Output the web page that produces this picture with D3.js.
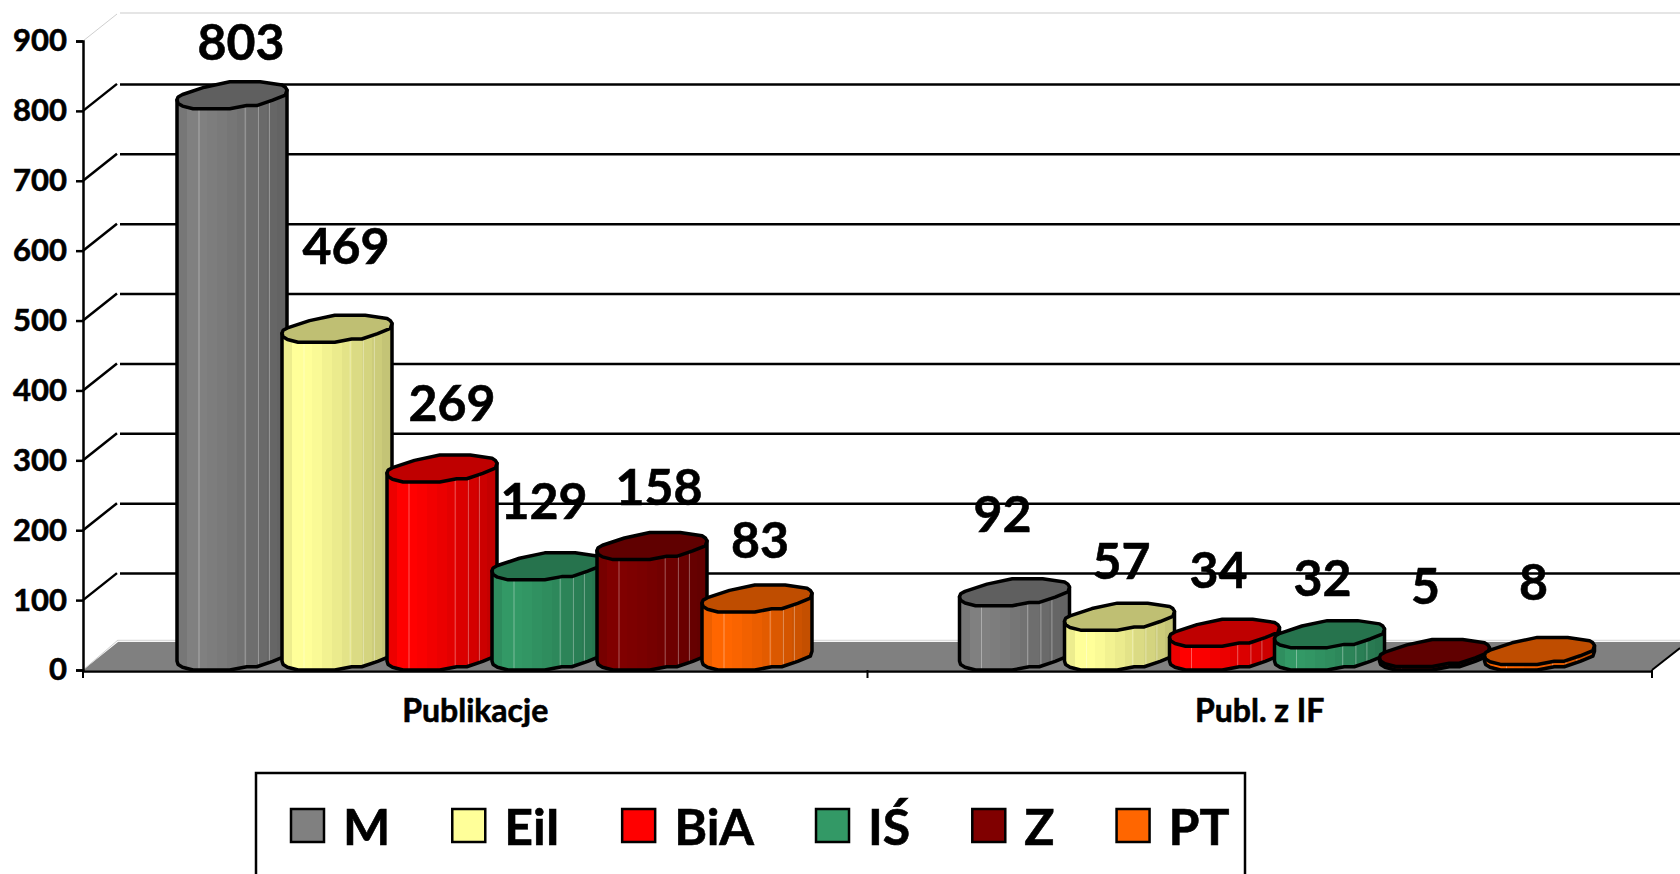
<!DOCTYPE html>
<html>
<head>
<meta charset="utf-8">
<script src="https://cdn.jsdelivr.net/npm/d3@7"></script>
<style>
  html, body { margin: 0; padding: 0; background: #fff; overflow: hidden; }
  text { font-family: Lato, "Open Sans", sans-serif; font-weight: 700; fill: #000; stroke: #000; stroke-width: .6px; }
</style>
</head>
<body>
<div id="graph"></div>
<script>
// data
const categories = ["Publikacje", "Publ. z IF"];
const seriesNames = ["M", "EiI", "BiA", "IŚ", "Z", "PT"];
const publikacje = [803, 469, 269, 129, 158, 83];
const publZIF = [92, 57, 34, 32, 5, 8];
const yTicks = [0, 100, 200, 300, 400, 500, 600, 700, 800, 900];
const seriesColors = ["#808080", "#ffff99", "#ff0000", "#339966", "#800000", "#ff6600"];
const capColors = ["#5f5f5f", "#bfbf73", "#bf0000", "#26734d", "#600000", "#bf4d00"];

// layout
const width = 1680, height = 874;
const depthX = 35, depthY = 28;
const barWidth = 110, capHeight = 27, baseLift = 13.5;
// label nudges from the bar centre, per category and series
const labelShift = [
  [[9, -53], [9, -82], [10, -65], [-3, -65], [7, -59], [3, -58]],
  [[-14, -78], [0, -55], [-8, -62], [-9, -56], [-11, -67], [-8, -68]]
];
// outline of a bar's end, as fractions of its box, left point first then along the front edge
const capShape = [[0, .67], [.01, .8], [.05, .9], [.146, 1], [.48, 1], [.634, .88], [.725, .88], [.87, .68], [.985, .49], [1, .305],
  [.985, .2], [.955, .12], [.756, 0], [.48, 0], [.25, .2], [.05, .47], [.01, .56]];
const frontCount = 10;
const shades = [.93, 1, 1, .98, .95, .92, .89, .86, .83, .8, .77];
const seams = [.2, .62, .74, .84];

const svg = d3.select("#graph").append("svg")
  .attr("width", width)
  .attr("height", height)
  .style("display", "block");

const y = d3.scaleLinear().domain([0, 900]).range([670, 41]);
const x0 = d3.scaleBand().domain(categories).range([83, 1652]);
const x1 = d3.scaleBand().domain(seriesNames).range([94, 724]);

// floor and back wall
const floorY = y(0);
svg.append("polygon")
  .attr("points", [[83, floorY], [83 + depthX, floorY - depthY], [width + 10, floorY - depthY], [1652, floorY]].join(" "))
  .attr("fill", "#808080");
svg.append("line").attr("x1", 118).attr("x2", width)
  .attr("y1", floorY - depthY - 1.5).attr("y2", floorY - depthY - 1.5)
  .attr("stroke", "#dcdcdc").attr("stroke-width", 1.5);
svg.append("line").attr("x1", 83).attr("x2", 118)
  .attr("y1", floorY).attr("y2", floorY - depthY - 2)
  .attr("stroke", "#cfcfcf").attr("stroke-width", 1);
svg.append("line").attr("x1", 1652).attr("x2", width)
  .attr("y1", floorY).attr("y2", floorY - 22)
  .attr("stroke", "#000").attr("stroke-width", 2);

// gridlines and the slanted bits on the side wall
yTicks.filter(d => d > 0).forEach(d => {
  const top = d === 900;
  svg.append("line")
    .attr("x1", 83).attr("y1", y(d))
    .attr("x2", 83 + depthX - 1).attr("y2", y(d) - depthY + 1)
    .attr("stroke", top ? "#cfcfcf" : "#000")
    .attr("stroke-width", top ? 1 : 2.5);
  svg.append("line")
    .attr("x1", 120).attr("x2", width)
    .attr("y1", y(d) - depthY + (top ? 0 : 1.5)).attr("y2", y(d) - depthY + (top ? 0 : 1.5))
    .attr("stroke", top ? "#dcdcdc" : "#000")
    .attr("stroke-width", top ? 1.5 : 2.5);
});

// axes
const yAxis = svg.append("g")
  .attr("transform", "translate(83,0)")
  .call(d3.axisLeft(y).tickValues(yTicks).tickSize(7).tickPadding(9));
yAxis.selectAll("text").attr("font-size", 31).style("font-family", "Lato");
yAxis.selectAll("line").attr("stroke", "#000").attr("stroke-width", 2.5);
yAxis.select(".domain").attr("stroke", "#000").attr("stroke-width", 2.5);

const xAxis = svg.append("g")
  .attr("transform", "translate(0," + (floorY + 1) + ")")
  .call(d3.axisBottom(x0).tickSize(0).tickPadding(28));
xAxis.selectAll("text").attr("font-size", 32).style("font-family", "Lato");
xAxis.select(".domain").attr("stroke", "#000").attr("stroke-width", 2.5);
[83, 1652, x0(categories[1])].forEach(px => {
  svg.append("line").attr("x1", px).attr("x2", px)
    .attr("y1", floorY).attr("y2", floorY + 8)
    .attr("stroke", "#000").attr("stroke-width", 2);
});

// gradients, one per series, in hard steps
const defs = svg.append("defs");
seriesColors.forEach((c, s) => {
  const grad = defs.append("linearGradient").attr("id", "body" + s);
  shades.forEach((k, i) => {
    const rgb = d3.rgb(c);
    const col = d3.rgb(rgb.r * k, rgb.g * k, rgb.b * k);
    grad.append("stop").attr("offset", i / shades.length).attr("stop-color", col);
    grad.append("stop").attr("offset", (i + 1) / shades.length).attr("stop-color", col);
  });
});

// cap outline at a given box
const capPoints = (left, cy) => capShape.map(p => [left + p[0] * barWidth, cy - capHeight / 2 + p[1] * capHeight]);
const lineGen = d3.line();

const seriesByCategory = [publikacje, publZIF];
categories.forEach((cat, c) => {
  const values = seriesByCategory[c];
  const g = svg.append("g");
  values.forEach((v, s) => {
    const left = x0(cat) + x1(seriesNames[s]) + (c === 1 ? -2 : 0);
    const base = y(0) - baseLift;
    const topY = y(v) - baseLift;
    const top = capPoints(left, topY);
    const bottom = capPoints(left, base).slice(0, frontCount);
    const outline = [top[0]].concat(bottom, [top[frontCount - 1]]);
    const clipId = "clip" + c + "_" + s;
    defs.append("clipPath").attr("id", clipId).append("path").attr("d", lineGen(outline) + "Z");
    g.append("path").attr("d", lineGen(outline) + "Z").attr("fill", "url(#body" + s + ")");
    g.append("g").attr("clip-path", "url(#" + clipId + ")")
      .selectAll("line").data(seams).join("line")
      .attr("x1", d => left + d * barWidth).attr("x2", d => left + d * barWidth)
      .attr("y1", topY).attr("y2", base + capHeight)
      .attr("stroke", "#fff").attr("stroke-opacity", .35).attr("stroke-width", 1);
    g.append("path").attr("d", lineGen(outline) + "Z")
      .attr("fill", "none").attr("stroke", "#000").attr("stroke-width", 3.5).attr("stroke-linejoin", "round");
    g.append("path").attr("d", lineGen(top) + "Z")
      .attr("fill", capColors[s]).attr("stroke", "#000").attr("stroke-width", 3.5).attr("stroke-linejoin", "round");
  });
});

// value labels go on top of everything
categories.forEach((cat, c) => {
  seriesByCategory[c].forEach((v, s) => {
    const left = x0(cat) + x1(seriesNames[s]);
    svg.append("text")
      .attr("x", left + barWidth / 2 + labelShift[c][s][0])
      .attr("y", y(v) - baseLift + labelShift[c][s][1])
      .attr("dy", ".35em")
      .attr("text-anchor", "middle")
      .attr("font-size", 50)
      .text(v);
  });
});

// legend, runs off the bottom of the page like the original
svg.append("rect")
  .attr("x", 256).attr("y", 773).attr("width", 989).attr("height", 160)
  .attr("fill", "#fff").attr("stroke", "#000").attr("stroke-width", 2.5);
let legendX = 291;
seriesNames.forEach((name, s) => {
  svg.append("rect")
    .attr("x", legendX).attr("y", 809).attr("width", 33).attr("height", 33)
    .attr("fill", seriesColors[s]).attr("stroke", "#000").attr("stroke-width", 2.5);
  const t = svg.append("text")
    .attr("x", legendX + 52).attr("y", 845)
    .attr("font-size", 50)
    .text(name);
  legendX += 52 + t.node().getComputedTextLength() + 62;
});
</script>
</body>
</html>
